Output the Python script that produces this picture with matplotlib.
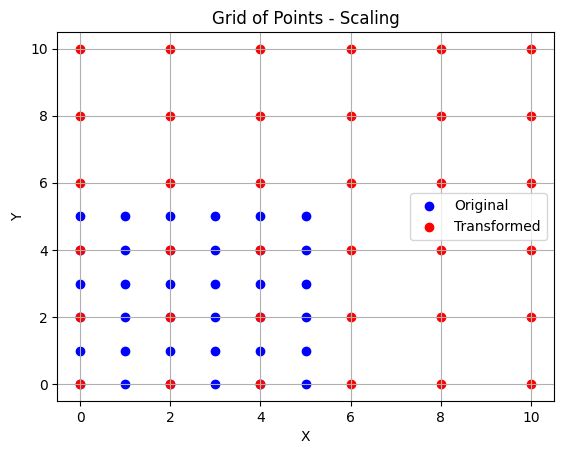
import numpy as np
import matplotlib.pyplot as plt

# original grid coordinates
orig_x = [0, 1, 2, 3, 4, 5]
orig_y = [0, 1, 2, 3, 4, 5]

# scaled grid coordinates (scale factor 2)
trans_x = [0, 2, 4, 6, 8, 10]
trans_y = [0, 2, 4, 6, 8, 10]

ox, oy = np.meshgrid(orig_x, orig_y)
tx, ty = np.meshgrid(trans_x, trans_y)

fig = plt.figure(figsize=(5.62, 4.55), dpi=100)
ax = fig.add_axes([0.1023, 0.1187, 0.8827, 0.811])

ax.scatter(ox.ravel(), oy.ravel(), color='blue', label='Original')
ax.scatter(tx.ravel(), ty.ravel(), color='red', label='Transformed')

ax.set_title('Grid of Points - Scaling')
ax.set_xlabel('X')
ax.set_ylabel('Y')
ax.grid(True)
ax.legend(loc='center right')

fig.savefig('out.png', dpi=100)
